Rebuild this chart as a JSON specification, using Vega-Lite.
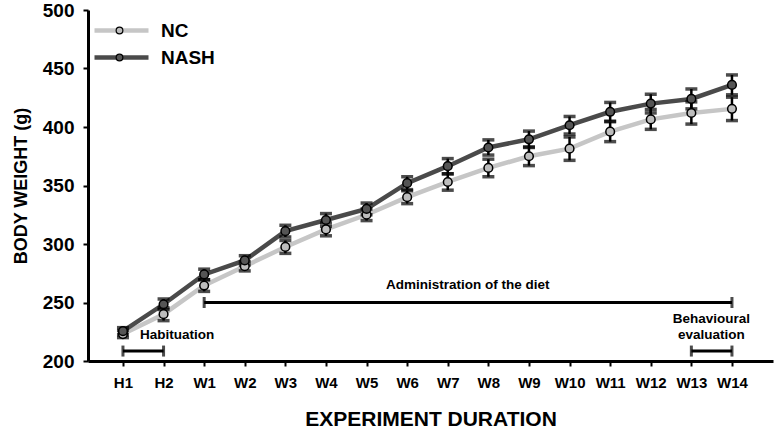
{
  "$schema": "https://vega.github.io/schema/vega-lite/v6.json",
  "width": 685,
  "height": 351,
  "autosize": {"type": "none"},
  "padding": {"left": 88, "top": 10, "right": 4, "bottom": 68},
  "config": {
    "view": {"stroke": null},
    "font": "Liberation Sans",
    "axis": {
      "domainColor": "black", "domainWidth": 3, "tickColor": "black", "tickWidth": 2, "tickSize": 5,
      "labelFont": "Liberation Sans", "labelFontWeight": "bold", "labelColor": "black",
      "titleFont": "Liberation Sans", "titleFontWeight": "bold", "titleColor": "black", "grid": false
    }
  },
  "datasets": {
    "weights": [
      {"period": "H1", "group": "NC", "mean": 223, "sem": 3},
      {"period": "H2", "group": "NC", "mean": 240, "sem": 5.5},
      {"period": "W1", "group": "NC", "mean": 264.5, "sem": 5},
      {"period": "W2", "group": "NC", "mean": 281, "sem": 4},
      {"period": "W3", "group": "NC", "mean": 297.5, "sem": 5.5},
      {"period": "W4", "group": "NC", "mean": 312.5, "sem": 5.5},
      {"period": "W5", "group": "NC", "mean": 325, "sem": 5},
      {"period": "W6", "group": "NC", "mean": 340, "sem": 5.5},
      {"period": "W7", "group": "NC", "mean": 353, "sem": 7},
      {"period": "W8", "group": "NC", "mean": 365, "sem": 7.5},
      {"period": "W9", "group": "NC", "mean": 375, "sem": 8},
      {"period": "W10", "group": "NC", "mean": 381.5, "sem": 10},
      {"period": "W11", "group": "NC", "mean": 396, "sem": 8.5},
      {"period": "W12", "group": "NC", "mean": 406.5, "sem": 8.5},
      {"period": "W13", "group": "NC", "mean": 412, "sem": 9.5},
      {"period": "W14", "group": "NC", "mean": 415.5, "sem": 10},
      {"period": "H1", "group": "NASH", "mean": 225.5, "sem": 3},
      {"period": "H2", "group": "NASH", "mean": 248.5, "sem": 4.5},
      {"period": "W1", "group": "NASH", "mean": 274, "sem": 4.5},
      {"period": "W2", "group": "NASH", "mean": 286, "sem": 4},
      {"period": "W3", "group": "NASH", "mean": 311, "sem": 5},
      {"period": "W4", "group": "NASH", "mean": 320.5, "sem": 5.5},
      {"period": "W5", "group": "NASH", "mean": 330, "sem": 5},
      {"period": "W6", "group": "NASH", "mean": 352, "sem": 5.5},
      {"period": "W7", "group": "NASH", "mean": 366.5, "sem": 6.5},
      {"period": "W8", "group": "NASH", "mean": 382.5, "sem": 6.5},
      {"period": "W9", "group": "NASH", "mean": 389.5, "sem": 7},
      {"period": "W10", "group": "NASH", "mean": 401.5, "sem": 7.5},
      {"period": "W11", "group": "NASH", "mean": 413, "sem": 8},
      {"period": "W12", "group": "NASH", "mean": 420, "sem": 8},
      {"period": "W13", "group": "NASH", "mean": 424, "sem": 8.5},
      {"period": "W14", "group": "NASH", "mean": 436, "sem": 8.5}
    ],
    "brackets": [
      {"phase": "Administration of the diet", "start": "W1", "end": "W14", "level": 250},
      {"phase": "Habituation", "start": "H1", "end": "H2", "level": 208.5},
      {"phase": "Behavioural evaluation", "start": "W13", "end": "W14", "level": 208.5}
    ]
  },
  "layer": [
    {
      "data": {"name": "weights"},
      "mark": {"type": "line", "strokeWidth": 4.5},
      "encoding": {
        "x": {"field": "period", "type": "ordinal", "title": "EXPERIMENT DURATION",
          "scale": {"type": "point", "padding": 0.936, "align": 0.46, "domain": ["H1","H2","W1","W2","W3","W4","W5","W6","W7","W8","W9","W10","W11","W12","W13","W14"]},
          "axis": {"labelFontSize": 15, "titleFontSize": 21, "labelPadding": 9, "titlePadding": 18, "labelAngle": 0}},
        "y": {"field": "mean", "type": "quantitative", "title": "BODY WEIGHT (g)",
          "scale": {"domain": [200, 500], "nice": false, "zero": false},
          "axis": {"values": [200, 250, 300, 350, 400, 450, 500], "labelFontSize": 19, "titleFontSize": 18, "labelPadding": 9, "titlePadding": 12}},
        "stroke": {"field": "group", "type": "nominal",
          "scale": {"domain": ["NC", "NASH"], "range": ["#c6c6c6", "#4a4a4a"]},
          "legend": {"title": null, "orient": "none", "legendX": 24, "legendY": 11, "symbolType": "M-5.4,0H5.4", "symbolSize": 100, "symbolStrokeWidth": 4.5,
            "labelFont": "Liberation Sans", "labelFontWeight": "bold", "labelFontSize": 19, "labelColor": "black", "labelOffset": 30, "rowPadding": 7}}
      }
    },
    {
      "data": {"name": "weights"},
      "mark": {"type": "errorbar", "color": "black", "thickness": 2.5, "size": 12, "ticks": {"thickness": 3.5, "color": "black"}, "rule": {"strokeWidth": 2.5, "color": "black"}},
      "encoding": {
        "x": {"field": "period", "type": "ordinal", "title": "EXPERIMENT DURATION"},
        "y": {"field": "mean", "type": "quantitative", "title": "BODY WEIGHT (g)"},
        "yError": {"field": "sem"}
      }
    },
    {
      "data": {"name": "weights"},
      "mark": {"type": "circle", "size": 75, "stroke": "black", "strokeWidth": 1.5, "opacity": 1},
      "encoding": {
        "x": {"field": "period", "type": "ordinal", "title": "EXPERIMENT DURATION"},
        "y": {"field": "mean", "type": "quantitative", "title": "BODY WEIGHT (g)"},
        "fill": {"field": "group", "type": "nominal",
          "scale": {"domain": ["NC", "NASH"], "range": ["#bdbdbd", "#555555"]},
          "legend": {"title": null, "orient": "top-left", "offset": 11, "symbolType": "circle", "symbolSize": 45, "symbolStrokeColor": "black", "symbolStrokeWidth": 1.2, "symbolOffset": 11,
            "labelFontSize": 19, "labelFontWeight": "bold", "labelExpr": "''", "rowPadding": 7}}
      }
    },
    {
      "data": {"name": "brackets"},
      "mark": {"type": "rule", "strokeWidth": 3, "color": "black"},
      "encoding": {
        "x": {"field": "start", "type": "ordinal", "title": "EXPERIMENT DURATION"},
        "x2": {"field": "end"},
        "y": {"field": "level", "type": "quantitative", "title": "BODY WEIGHT (g)"}
      }
    },
    {
      "data": {"name": "brackets"},
      "transform": [{"fold": ["start", "end"], "as": ["side", "pos"]}],
      "mark": {"type": "point", "shape": "stroke", "angle": 90, "size": 121, "strokeWidth": 3, "color": "black"},
      "encoding": {
        "x": {"field": "pos", "type": "ordinal", "title": "EXPERIMENT DURATION"},
        "y": {"field": "level", "type": "quantitative", "title": "BODY WEIGHT (g)"}
      }
    },
    {
      "data": {"values": [{"note": "Administration of the diet", "at": "W7", "level": 265}]},
      "mark": {"type": "text", "dx": 20, "fontSize": 13.5, "fontWeight": "bold", "font": "Liberation Sans", "align": "center", "baseline": "middle", "color": "black"},
      "encoding": {
        "x": {"field": "at", "type": "ordinal", "title": "EXPERIMENT DURATION"},
        "y": {"field": "level", "type": "quantitative", "title": "BODY WEIGHT (g)"},
        "text": {"field": "note"}
      }
    },
    {
      "data": {"values": [{"note": "Habituation", "at": "H1", "level": 222}]},
      "mark": {"type": "text", "dx": 17, "fontSize": 13.5, "fontWeight": "bold", "font": "Liberation Sans", "align": "left", "baseline": "middle", "color": "black"},
      "encoding": {
        "x": {"field": "at", "type": "ordinal", "title": "EXPERIMENT DURATION"},
        "y": {"field": "level", "type": "quantitative", "title": "BODY WEIGHT (g)"},
        "text": {"field": "note"}
      }
    },
    {
      "data": {"values": [{"note": "Behavioural\nevaluation", "at": "W13", "level": 236}]},
      "mark": {"type": "text", "dx": 20, "fontSize": 13.5, "fontWeight": "bold", "font": "Liberation Sans", "align": "center", "baseline": "middle", "lineBreak": "\n", "lineHeight": 16, "color": "black"},
      "encoding": {
        "x": {"field": "at", "type": "ordinal", "title": "EXPERIMENT DURATION"},
        "y": {"field": "level", "type": "quantitative", "title": "BODY WEIGHT (g)"},
        "text": {"field": "note"}
      }
    }
  ]
}
